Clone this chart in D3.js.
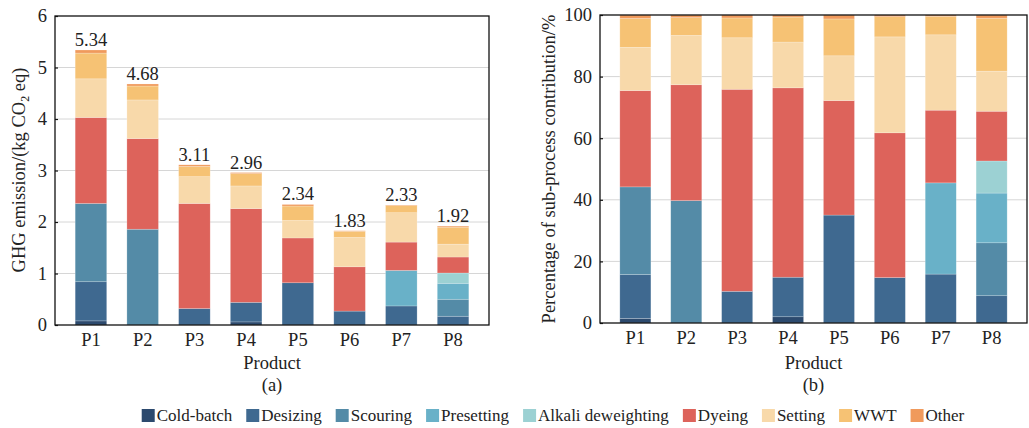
<!DOCTYPE html>
<html>
<head>
<meta charset="utf-8">
<script src="https://cdn.jsdelivr.net/npm/d3@7"></script>
<style>
  body { margin: 0; background: #fff; }
  svg text { font-family: "Liberation Serif", "Times New Roman", Times, "DejaVu Serif", "Noto Serif", serif; fill: #222; }
</style>
</head>
<body>
<div id="chart"></div>
<script>
// products and sub-processes
var products = ["P1", "P2", "P3", "P4", "P5", "P6", "P7", "P8"];
var processes = ["Cold-batch", "Desizing", "Scouring", "Presetting", "Alkali deweighting",
                 "Dyeing", "Setting", "WWT", "Other"];
var colors = ["#2c4a6e", "#3f6990", "#548ba7", "#69b1c8", "#9cd1d3",
              "#dd635b", "#f8d9aa", "#f6c274", "#f09a5c"];

// GHG emission per sub-process (kg CO2 eq), one array per process, P1..P8
var coldBatch  = [0.08, 0,    0,    0.06, 0,    0,    0,    0];
var desizing   = [0.76, 0,    0.32, 0.38, 0.82, 0.27, 0.37, 0.17];
var scouring   = [1.52, 1.86, 0,    0,    0,    0,    0,    0.33];
var presetting = [0,    0,    0,    0,    0,    0,    0.69, 0.31];
var alkali     = [0,    0,    0,    0,    0,    0,    0,    0.20];
var dyeing     = [1.67, 1.76, 2.04, 1.82, 0.87, 0.86, 0.55, 0.31];
var setting    = [0.75, 0.75, 0.52, 0.44, 0.34, 0.57, 0.57, 0.25];
var wwt        = [0.50, 0.27, 0.20, 0.24, 0.28, 0.12, 0.14, 0.33];
var other      = [0.06, 0.04, 0.03, 0.02, 0.03, 0.01, 0.01, 0.02];
var totals     = ["5.34", "4.68", "3.11", "2.96", "2.34", "1.83", "2.33", "1.92"];

var yTicksA = [0, 1, 2, 3, 4, 5, 6];
var yTicksB = [0, 20, 40, 60, 80, 100];

var series = [coldBatch, desizing, scouring, presetting, alkali, dyeing, setting, wwt, other];

// build the table for d3.stack
var table = products.map(function(p, i) {
    var row = {product: p};
    processes.forEach(function(k, j) { row[k] = series[j][i]; });
    return row;
});
var pctTable = table.map(function(r) {
    var sum = d3.sum(processes, function(k) { return r[k]; });
    var row = {product: r.product};
    processes.forEach(function(k) { row[k] = r[k] / sum * 100; });
    return row;
});

var W = 1029, H = 428;
var fs = 18.5;
var serif = '"Liberation Serif", "Times New Roman", Times, "DejaVu Serif", "Noto Serif", serif';
var svg = d3.select("#chart").append("svg")
    .attr("width", W).attr("height", H)
    .attr("font-family", serif);

var color = d3.scaleOrdinal().domain(processes).range(colors);
var stack = d3.stack().keys(processes);

function drawPanel(opt) {
    var g = svg.append("g");
    var x = d3.scaleBand().domain(products).range([opt.x0, opt.x1]).padding(0.39);
    var y = d3.scaleLinear().domain([0, opt.max]).range([opt.y1, opt.y0]);

    // grid lines
    g.selectAll(".grid").data(opt.ticks.slice(1, -1)).enter().append("line")
        .attr("x1", opt.x0).attr("x2", opt.x1)
        .attr("y1", function(d) { return y(d); })
        .attr("y2", function(d) { return y(d); })
        .attr("stroke", "#d6d6d6").attr("stroke-width", 1);

    // stacked bars
    var layers = stack(opt.data);
    g.selectAll(".layer").data(layers).enter().append("g")
        .attr("fill", function(d) { return color(d.key); })
        .selectAll("rect")
        .data(function(d) { return d; })
        .enter().append("rect")
            .attr("x", function(d) { return x(d.data.product); })
            .attr("y", function(d) { return y(d[1]); })
            .attr("width", x.bandwidth())
            .attr("height", function(d) { return Math.max(0, y(d[0]) - y(d[1])); })
            .attr("stroke", "rgba(255,255,255,0.35)")
            .attr("stroke-width", 0.6);

    // frame
    g.append("rect")
        .attr("x", opt.x0).attr("y", opt.y0)
        .attr("width", opt.x1 - opt.x0).attr("height", opt.y1 - opt.y0)
        .attr("fill", "none").attr("stroke", "#111").attr("stroke-width", 1.3);

    // y axis, short inward ticks
    var ya = g.append("g")
        .attr("transform", "translate(" + opt.x0 + ",0)")
        .call(d3.axisLeft(y).tickValues(opt.ticks).tickFormat(d3.format("d")).tickSize(-3).tickPadding(8));
    ya.attr("font-family", serif);
    ya.select(".domain").remove();
    ya.selectAll("line").attr("stroke", "#111").attr("stroke-width", 1.2);
    ya.selectAll("text").attr("font-size", fs).attr("fill", "#222");

    // x axis
    var xa = g.append("g")
        .attr("transform", "translate(0," + opt.y1 + ")")
        .call(d3.axisBottom(x).tickSize(0).tickPadding(8));
    xa.attr("font-family", serif);
    xa.select(".domain").remove();
    xa.selectAll("text").attr("font-size", fs).attr("fill", "#222");

    // x label and panel letter
    var cx = (opt.x0 + opt.x1) / 2;
    g.append("text").attr("x", cx).attr("y", 369).attr("text-anchor", "middle")
        .attr("font-size", fs).text("Product");
    g.append("text").attr("x", cx).attr("y", 391).attr("text-anchor", "middle")
        .attr("font-size", fs).text(opt.letter);

    return {x: x, y: y, g: g};
}

var a = drawPanel({x0: 55, x1: 489, y0: 16, y1: 325, max: 6, ticks: yTicksA,
                   data: table, letter: "(a)"});
var b = drawPanel({x0: 600, x1: 1027, y0: 15, y1: 323, max: 100, ticks: yTicksB,
                   data: pctTable, letter: "(b)"});

// totals above bars in (a)
a.g.selectAll(".total").data(table).enter().append("text")
    .attr("x", function(d) { return a.x(d.product) + a.x.bandwidth() / 2; })
    .attr("y", function(d) { return a.y(d3.sum(processes, function(k) { return d[k]; })) - 4; })
    .attr("text-anchor", "middle").attr("font-size", fs)
    .text(function(d, i) { return totals[i]; });

// y axis titles
var ta = svg.append("text")
    .attr("transform", "translate(25,170) rotate(-90)")
    .attr("text-anchor", "middle").attr("font-size", fs);
ta.append("tspan").text("GHG emission/(kg CO");
ta.append("tspan").attr("font-size", 12).attr("dy", 4).text("2");
ta.append("tspan").attr("dy", -4).text(" eq)");

svg.append("text")
    .attr("transform", "translate(555,169) rotate(-90)")
    .attr("text-anchor", "middle").attr("font-size", fs)
    .text("Percentage of sub-process contribution/%");

// legend
var legend = svg.append("g");
var lx = 0, sq = 13;
processes.forEach(function(k) {
    var item = legend.append("g").attr("transform", "translate(" + lx + ",0)");
    item.append("rect").attr("x", 0).attr("y", -12).attr("width", sq).attr("height", sq)
        .attr("fill", color(k));
    var t = item.append("text").attr("x", sq + 2).attr("y", 0).attr("font-size", 17).text(k);
    lx += sq + 2 + t.node().getComputedTextLength() + 14;
});
lx -= 14;
legend.attr("transform", "translate(" + (553 - lx / 2) + ",421)");
</script>
</body>
</html>
